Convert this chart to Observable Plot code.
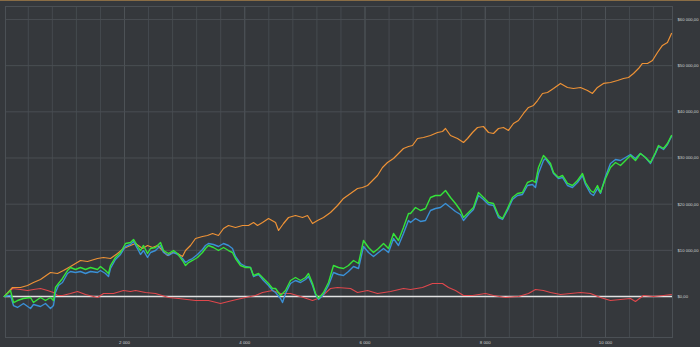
<!DOCTYPE html>
<html>
<head>
<meta charset="utf-8">
<script src="https://cdn.jsdelivr.net/npm/d3@7"></script>
<script src="https://cdn.jsdelivr.net/npm/@observablehq/plot@0.6"></script>
<style>
  html, body { margin: 0; padding: 0; background: #35383c; }
  #topbar { height: 1px; background: #8a6d45; }
  #chart svg { display: block; background: #35383c; }
</style>
</head>
<body>
<div id="topbar"></div>
<div id="chart"></div>
<script>
// [trade number, cumulative P/L in $]
const orangeSeries = [
  [0,0],[137,1950],[270,1950],[387,2380],[486,3030],[603,3680],[769,5200],[886,4980],[985,5630],
  [1102,6500],[1268,7800],[1385,7580],[1551,8230],[1651,8450],[1767,8230],[1884,9310],[1984,10400],
  [2100,11050],[2183,11480],[2300,10400],[2383,11050],[2466,10610],[2549,11050],[2632,9960],[2716,8880],
  [2799,9530],[2882,9310],[2965,8660],[3015,9960],[3098,11050],[3181,12560],[3297,13000],[3380,13210],
  [3464,13650],[3563,13210],[3647,14730],[3730,15380],[3846,14950],[3963,15380],[4062,15380],[4146,16030],
  [4212,15380],[4296,16030],[4395,16890],[4512,16030],[4562,14300],[4645,15810],[4728,17110],[4844,17540],
  [4961,17110],[5044,17540],[5127,15810],[5210,16460],[5310,17110],[5426,18190],[5543,19710],[5642,21230],
  [5759,22310],[5875,23390],[5958,23610],[6042,24040],[6125,25130],[6208,26210],[6291,27940],[6374,29020],
  [6474,29890],[6557,30970],[6640,32060],[6723,32490],[6790,32710],[6873,34220],[6973,34440],[7089,34870],
  [7206,35520],[7289,35740],[7339,36390],[7422,34870],[7538,34220],[7638,33360],[7705,34220],[7788,35520],
  [7871,36610],[7970,36820],[8054,35520],[8137,35310],[8220,36390],[8303,36610],[8386,35960],[8469,37470],
  [8552,38120],[8636,39640],[8719,40940],[8802,41370],[8869,42450],[8952,43970],[9035,44190],[9135,45050],
  [9251,46140],[9367,45270],[9467,45050],[9584,45270],[9700,44620],[9783,43970],[9866,45270],[9966,46140],
  [10082,46350],[10199,46790],[10299,47220],[10382,47440],[10465,48300],[10548,49380],[10614,50470],
  [10698,50470],[10781,51120],[10864,52850],[10947,54370],[11030,55020],[11097,56970]
];
const greenSeries = [
  [0,0],[104,1300],[154,-1300],[220,-870],[320,-430],[437,-220],[486,-1300],[603,-220],[686,-870],
  [769,-220],[819,-870],[852,1950],[902,2820],[969,3900],[1052,5630],[1102,6280],[1185,5850],[1268,6280],
  [1352,5850],[1435,6280],[1551,5850],[1601,6500],[1684,5630],[1734,4980],[1767,6710],[1850,8450],
  [1934,9530],[2017,11480],[2100,11700],[2150,12350],[2233,10610],[2266,9960],[2316,11050],[2383,9310],
  [2433,10400],[2516,10610],[2599,11700],[2649,9960],[2732,9310],[2815,9960],[2882,9310],[2965,7800],
  [3015,6710],[3065,7360],[3131,7800],[3214,8450],[3297,9530],[3347,10400],[3397,11050],[3480,10610],
  [3563,9960],[3647,10610],[3730,9960],[3796,9530],[3846,8230],[3929,6710],[4013,6280],[4096,6280],
  [4146,4550],[4229,4980],[4312,3900],[4395,2820],[4462,1730],[4512,1730],[4595,220],[4678,1300],
  [4761,3470],[4844,4120],[4928,3470],[5011,4120],[5060,4980],[5127,2820],[5177,650],[5227,-430],
  [5310,870],[5393,3030],[5476,6710],[5559,6280],[5642,6060],[5725,6710],[5809,7800],[5892,7150],
  [5975,12130],[6058,10610],[6141,9530],[6224,10400],[6308,11480],[6391,10400],[6474,13650],[6557,12130],
  [6640,14950],[6723,17980],[6757,17980],[6840,19280],[6923,18630],[7006,19060],[7089,21440],[7172,21880],
  [7255,21880],[7339,22960],[7422,21440],[7505,20140],[7588,18630],[7638,17110],[7721,18190],[7804,19280],
  [7887,22530],[7970,21440],[8054,20360],[8137,20140],[8220,17540],[8287,16890],[8370,19060],[8453,21440],
  [8536,22310],[8619,22530],[8702,24690],[8785,25130],[8835,24690],[8885,27940],[8968,30540],[9001,30110],
  [9085,28810],[9135,26860],[9218,25780],[9284,26210],[9367,24480],[9450,24040],[9534,25130],[9617,26640],
  [9667,24690],[9750,22960],[9800,22530],[9866,24040],[9916,22530],[10000,25560],[10082,27940],
  [10166,29020],[10249,28370],[10332,29460],[10415,30540],[10498,29460],[10581,30970],[10664,30110],
  [10748,29020],[10831,31190],[10881,32710],[10964,32060],[11030,33140],[11097,34870]
];
const blueSeries = [
  [0,0],[104,220],[154,-1950],[220,-2380],[320,-1520],[437,-2600],[486,-1730],[603,-2170],[686,-1520],
  [769,-2600],[819,-1950],[852,870],[902,2380],[969,3030],[1052,4980],[1102,5410],[1185,5200],[1268,5410],
  [1352,4980],[1435,5410],[1551,5200],[1601,5630],[1684,4980],[1734,4330],[1767,6060],[1850,8010],
  [1934,9100],[2017,10830],[2100,11260],[2150,11910],[2233,9960],[2266,9100],[2316,9960],[2383,8450],
  [2433,9530],[2516,9960],[2599,11050],[2649,9530],[2732,8880],[2815,9530],[2882,9100],[2965,8230],
  [3015,7360],[3065,7800],[3131,8230],[3214,9100],[3297,10180],[3347,11050],[3397,11480],[3480,11260],
  [3563,10830],[3647,11480],[3730,11050],[3796,10400],[3846,8660],[3929,7150],[4013,6500],[4096,6280],
  [4146,4330],[4229,4770],[4312,3470],[4395,2380],[4462,1300],[4512,870],[4595,-430],[4628,-1300],
  [4678,650],[4761,2820],[4844,3470],[4928,3030],[5011,3680],[5060,4330],[5127,2380],[5177,430],
  [5227,-650],[5310,430],[5393,2380],[5476,5200],[5559,4770],[5642,4550],[5725,5410],[5809,6500],
  [5892,6060],[5975,10830],[6058,9530],[6141,8660],[6224,9530],[6308,10400],[6391,9530],[6474,12560],
  [6557,11050],[6640,13650],[6723,16460],[6757,16030],[6840,16890],[6923,16250],[7006,16460],[7089,18630],
  [7172,19060],[7255,19280],[7339,20140],[7422,19280],[7505,18410],[7588,17760],[7638,16460],[7721,17760],
  [7804,18840],[7887,21880],[7970,21010],[8054,19930],[8137,19710],[8220,17110],[8287,16680],[8370,18630],
  [8453,21010],[8536,21880],[8619,22100],[8702,24040],[8785,24260],[8835,23610],[8885,26640],[8968,29460],
  [9001,29890],[9085,28370],[9135,26640],[9218,25560],[9284,25780],[9367,24040],[9450,23610],[9534,24690],
  [9617,26210],[9667,24260],[9750,22310],[9800,21880],[9866,23390],[9916,22310],[10000,25990],
  [10082,28810],[10166,29670],[10249,29460],[10332,30110],[10415,30760],[10498,29890],[10581,30970],
  [10664,30110],[10748,28810],[10831,30970],[10881,32490],[10964,31840],[11030,32920],[11097,34650]
];
const redSeries = [
  [0,0],[137,1730],[270,1520],[387,1300],[486,1520],[603,1730],[720,1300],[819,870],[886,220],[969,220],
  [1102,650],[1218,1080],[1352,430],[1551,-220],[1651,650],[1817,650],[1984,1300],[2100,1080],[2183,1300],
  [2350,870],[2516,650],[2732,-220],[2899,-430],[3181,-870],[3397,-870],[3597,-1520],[3796,-870],
  [4013,-220],[4179,220],[4296,870],[4462,1300],[4595,650],[4761,650],[4978,-220],[5127,-870],[5260,-220],
  [5426,1730],[5543,1950],[5759,1730],[5875,870],[6042,1300],[6208,650],[6424,1080],[6640,1730],
  [6757,1520],[6956,1950],[7122,2820],[7289,2820],[7389,1950],[7505,1300],[7638,220],[7788,220],
  [8004,650],[8137,220],[8336,-220],[8552,0],[8719,650],[8835,1520],[8968,1300],[9085,870],[9251,430],
  [9417,650],[9584,870],[9750,650],[9916,-220],[10082,-870],[10249,-650],[10415,-430],[10498,-1080],
  [10631,220],[10797,0],[10964,220],[11097,430]
];

const xTicks = [2000, 4000, 6000, 8000, 10000];
const yTicks = [0, 10000, 20000, 30000, 40000, 50000, 60000];
const xGridMinor = d3.range(400, 11100, 400);

const loc = d3.formatLocale({decimal: ",", thousands: " ", grouping: [3], currency: ["$", ""]});
const fmtMoney = loc.format("$,.2f");
const fmtInt = loc.format(",d");

const toRows = (arr, name) => arr.map(([t, v]) => ({trade: t, pl: v, series: name}));

const chart = Plot.plot({
  width: 700,
  height: 346,
  marginLeft: 5,
  marginRight: 28,
  marginTop: 5,
  marginBottom: 10,
  style: {background: "#35383c", color: "#d0d2d4", fontFamily: "'Liberation Sans', Arial, sans-serif"},
  x: {domain: [21, 11114]},
  y: {domain: [-8880, 62810]},
  marks: [
    Plot.gridX(xGridMinor, {stroke: "#454a4f", strokeOpacity: 1, strokeWidth: 1}),
    Plot.gridX(xTicks, {stroke: "#4d5257", strokeOpacity: 1, strokeWidth: 1}),
    Plot.gridY(yTicks.filter(d => d !== 0), {stroke: "#4a4e53", strokeOpacity: 1, strokeWidth: 1}),
    Plot.frame({stroke: "#4b5055", strokeWidth: 1}),
    Plot.axisX(xTicks, {anchor: "bottom", tickSize: 0, tickPadding: 3, tickFormat: fmtInt, fontSize: 4.4, fill: "#d0d2d4", label: null}),
    Plot.axisY(yTicks, {anchor: "right", tickSize: 0, tickPadding: 5, tickFormat: fmtMoney, fontSize: 4.2, fill: "#d0d2d4", label: null}),
    Plot.ruleY([0], {stroke: "#e2e2e2", strokeWidth: 1.6}),
    Plot.line(toRows(redSeries, "red"), {x: "trade", y: "pl", stroke: "#e0474c", strokeWidth: 1.1}),
    Plot.line(toRows(orangeSeries, "orange"), {x: "trade", y: "pl", stroke: "#ee9236", strokeWidth: 1.2}),
    Plot.line(toRows(blueSeries, "blue"), {x: "trade", y: "pl", stroke: "#3a90d6", strokeWidth: 1.4}),
    Plot.line(toRows(greenSeries, "green"), {x: "trade", y: "pl", stroke: "#35e23a", strokeWidth: 1.4})
  ]
});
document.getElementById("chart").appendChild(chart);
</script>
</body>
</html>
